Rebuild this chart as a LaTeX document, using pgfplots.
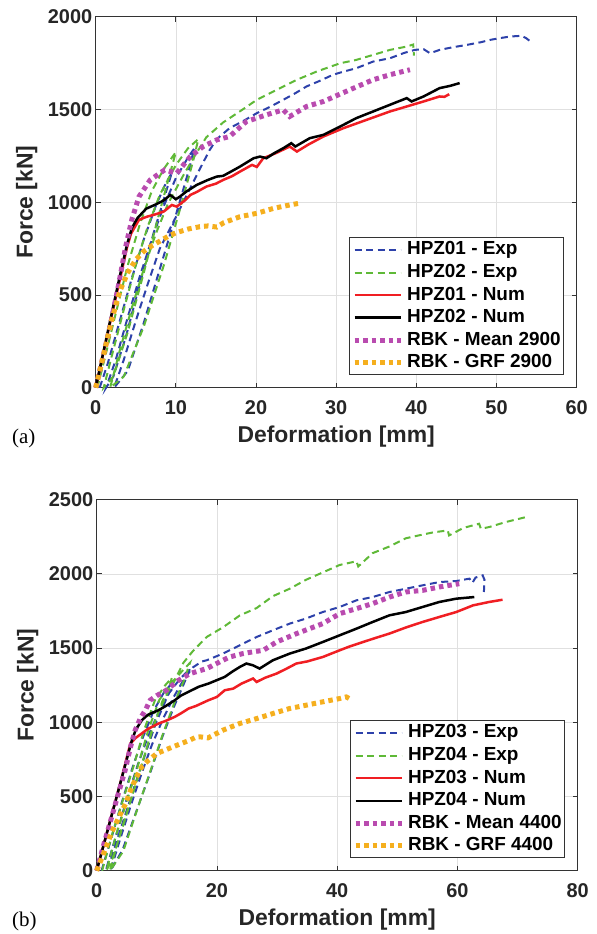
\documentclass[border=0pt]{standalone}
\usepackage{fontspec}
\setmainfont{Liberation Sans}
\newfontfamily\seriffont{Liberation Serif}
\usepackage{pgfplots}
\pgfplotsset{compat=1.18}

\definecolor{cblue}{RGB}{45,65,170}
\definecolor{cgreen}{RGB}{95,185,55}
\definecolor{cred}{RGB}{240,30,35}
\definecolor{cmag}{RGB}{185,75,175}
\definecolor{corange}{RGB}{245,175,30}

\pgfplotsset{
  panel/.style={
    scale only axis, width=481bp, height=371bp,
    clip=false,
    axis line style={black!80, line width=0.8bp},
    grid=major, major grid style={black!12, line width=0.6bp},
    tick align=inside, major tick length=5bp,
    tick style={black!80, line width=0.8bp},
    /pgf/number format/assume math mode=true,
    /pgf/number format/1000 sep={},
    tick label style={font=\fontsize{20}{22}\selectfont\bfseries, text=black!85},
    xticklabel style={yshift=-9bp},
    label style={font=\fontsize{23}{25}\selectfont\bfseries, text=black!85},
    ylabel style={at={(axis description cs:-0.1436,0.5)}, anchor=center},
    legend style={at={(0.974,0.033)}, anchor=south east,
      font=\fontsize{19}{21}\selectfont\bfseries, draw=black!80,
      line width=1bp, inner sep=3bp, row sep=4.6bp,
      nodes={inner sep=0bp, text height=14bp, text depth=4bp},
      /tikz/every odd column/.append style={column sep=4bp}},
    legend cell align=left,
    legend image code/.code={\draw[##1] (0bp,0bp) -- (46bp,0bp);},
  },
  exp/.style={line width=2bp, dash pattern=on 7bp off 4.5bp},
  num/.style={line width=2.5bp, solid},
  rbk/.style={line width=5bp, dash pattern=on 4.5bp off 4bp},
}

\begin{document}
\begin{tikzpicture}
\path[use as bounding box] (0,0) rectangle (597bp,934bp);

% ---------------- panel (a)
\begin{axis}[panel,
  at={(95.7bp,546.3bp)}, anchor=south west,
  xmin=0, xmax=60, ymin=0, ymax=2000,
  xtick={0,10,...,60}, ytick={0,500,...,2000},
  xlabel={Deformation [mm]}, ylabel={Force [kN]},
  xlabel style={at={(axis description cs:0.5,-0.132)}, anchor=center},
]
\addplot[cblue, exp] coordinates {
 (0.5,0) (1.5,130) (3,360) (4.5,590) (6,800) (7.5,980) (8.5,1080) (9.5,1160)
 (8.8,1060) (7.2,830) (5.5,560) (3.8,280) (2.2,60) (1.3,0)
 (2.5,150) (4,380) (5.5,600) (7,800) (8.5,980) (10,1130) (11.5,1240) (12.3,1290)
 (11.6,1170) (10,930) (8,640) (6,350) (4,90) (2.3,0)
 (3.5,150) (5,360) (6.5,560) (8,750) (10,920) (11.5,1050) (13,1180) (14.2,1280)
 (15.1,1340) (16.7,1399) (18.5,1440) (20.1,1480) (21.8,1515) (23.4,1552) (25,1590)
 (26.3,1624) (28,1655) (29.6,1687) (31,1705) (32.5,1722) (34.6,1758) (36.7,1776)
 (38.5,1805) (39.8,1821) (40.9,1825) (41.7,1803) (42.9,1821) (44.5,1835) (46.3,1848)
 (48,1862) (49.2,1875) (50.5,1885) (51.7,1893) (53.1,1897) (53.7,1884) (54.4,1861)
};
\addlegendentry{HPZ01 - Exp}
\addplot[cgreen, exp] coordinates {
 (0.2,0) (1.2,170) (2.5,400) (4,660) (5.5,880) (7,1060) (8.5,1180) (10,1270)
 (9.3,1160) (7.8,920) (6,620) (4,300) (2.2,60) (1,0)
 (2,170) (3.5,420) (5,660) (6.5,870) (8,1040) (10,1200) (11.5,1290) (12.8,1340)
 (12.2,1230) (10.5,960) (8.5,660) (6,330) (3.5,60) (1.8,0)
 (3,200) (4.5,430) (6,640) (7.5,830) (9,990) (11,1150) (12.5,1260) (13.8,1350)
 (15.9,1430) (18,1490) (20.1,1552) (22.6,1606) (25.1,1660) (27.6,1705) (30.5,1749)
 (32.5,1767) (34.6,1794) (36.7,1821) (38.8,1839) (39.6,1850) (39.7,1790)
};
\addlegendentry{HPZ02 - Exp}
\addplot[cred, num] coordinates {
 (0,0) (1,195) (2,390) (3,580) (3.9,755) (4.4,830) (5.4,905) (6.4,922) (7.1,930)
 (7.85,940) (8.5,950) (9.5,985) (10.1,976) (11.2,1012) (11.8,1039) (12.6,1055)
 (13.8,1084) (15,1100) (15.9,1120) (17,1140) (18,1165) (19.5,1201) (20.1,1190)
 (20.9,1237) (22.5,1265) (24.2,1300) (25.1,1273) (26.5,1310) (28.4,1354)
 (30.9,1399) (33.8,1444) (36.7,1489) (38.8,1516) (40.9,1543) (42.9,1570)
 (43.5,1568) (44.1,1582)
};
\addlegendentry{HPZ01 - Num}
\addplot[black, num] coordinates {
 (0,0) (1,200) (2,400) (3,600) (3.9,770) (4.5,860) (5.2,914) (6.3,965) (7.6,990)
 (8.5,1010) (9.3,1039) (10,1016) (10.5,1030) (11.3,1057) (12.6,1093) (14,1120)
 (15.1,1138) (15.9,1142) (17,1168) (18,1192) (19.7,1237) (20.5,1246) (21.3,1237)
 (22.3,1265) (23.4,1291) (24.4,1318) (24.9,1300) (26.7,1345) (28.4,1363)
 (30.5,1408) (32.5,1453) (34.6,1489) (36.7,1525) (38.8,1561) (39.4,1543)
 (40.9,1570) (42.9,1615) (44.2,1627) (45.4,1642)
};
\addlegendentry{HPZ02 - Num}
\addplot[cmag, rbk] coordinates {
 (0,0) (1.6,293) (2.7,520) (3.7,752) (4.5,905) (5.4,1030) (6.8,1120) (8.6,1174)
 (10.1,1156) (11.8,1246) (13.4,1300) (15.1,1336) (16.7,1354) (18.8,1435)
 (21.3,1471) (23.4,1498) (24.2,1462) (26.3,1516) (28.4,1543) (31.7,1606)
 (34.6,1660) (36.7,1687) (39.2,1714)
};
\addlegendentry{RBK - Mean 2900}
\addplot[corange, rbk] coordinates {
 (0,0) (1,180) (2,365) (3,520) (4,620) (5,690) (6,735) (7,765) (8,790) (9,815)
 (10,835) (11.5,855) (13,868) (14,872) (15.1,866) (16,890) (18,922) (20.1,940)
 (22.2,967) (24.2,985) (25.5,995)
};
\addlegendentry{RBK - GRF 2900}
\end{axis}
\node[font=\seriffont\fontsize{21}{23}\selectfont, anchor=west, inner sep=0pt] at (12bp,496bp) {(a)};

% ---------------- panel (b)
\begin{axis}[panel,
  at={(96.7bp,63.3bp)}, anchor=south west,
  xmin=0, xmax=80, ymin=0, ymax=2500,
  xtick={0,20,...,80}, ytick={0,500,...,2500},
  xlabel={Deformation [mm]}, ylabel={Force [kN]},
  xlabel style={at={(axis description cs:0.5,-0.133)}, anchor=center},
]
\addplot[cblue, exp] coordinates {
 (0.8,0) (2.3,200) (4.1,450) (6,700) (7.7,900) (9.5,1080) (11.3,1210) (12.5,1260)
 (11.5,1150) (9.8,990) (8.2,800) (6.3,570) (4.3,320) (2.4,80) (1.5,0)
 (3.1,220) (4.9,470) (6.8,710) (8.5,900) (10.3,1070) (12.1,1200) (13.8,1290) (15.5,1360)
 (14.5,1260) (12.8,1100) (10.9,900) (8.9,660) (6.6,400) (4.3,140) (2.3,0)
 (3.8,200) (5.6,430) (7.5,660) (9.2,850) (11,1020) (12.8,1170) (14.5,1290)
 (16,1370) (17.5,1410) (18.3,1418) (21,1463) (23.8,1519) (26.6,1575) (29.3,1620)
 (32.1,1665) (34.8,1699) (37.6,1743) (40.4,1777) (43.2,1822) (45.9,1844)
 (48.7,1878) (51.4,1900) (54.2,1923) (57,1945) (59.8,1952) (62,1968) (62.5,1940)
 (63,1975) (64.2,1990) (64.5,1960) (64.4,1878)
};
\addlegendentry{HPZ03 - Exp}
\addplot[cgreen, exp] coordinates {
 (0.9,0) (2.6,250) (4.4,480) (6.1,700) (7.9,950) (9.7,1150) (11.4,1250) (12.5,1300)
 (11.8,1200) (10.2,1060) (8.5,850) (6.6,600) (4.6,330) (2.6,80) (1.6,0)
 (3.3,250) (5.1,480) (6.8,700) (8.6,950) (10.4,1150) (12.1,1250) (14.1,1340) (15.5,1400)
 (14.6,1290) (12.9,1130) (11,920) (9,680) (6.8,420) (4.4,130) (2.2,0)
 (3.9,250) (5.7,480) (7.4,700) (9.2,950) (11,1150) (12.7,1260) (14.4,1400)
 (16,1480) (18.3,1575) (21,1640) (23.8,1720) (26.6,1770) (29.3,1850) (32.1,1900)
 (34.8,1960) (37.6,2010) (40.4,2060) (43.2,2085) (43.5,2050) (45.9,2140)
 (48.7,2185) (51.4,2240) (54.2,2265) (56,2280) (58.4,2293) (58.6,2259) (61,2310)
 (63.6,2338) (63.9,2304) (65.3,2316) (68,2349) (71.4,2383)
};
\addlegendentry{HPZ04 - Exp}
\addplot[cred, num] coordinates {
 (0,0) (2,300) (4,600) (5.6,857) (6.5,895) (7.5,925) (8.5,955) (10.3,992)
 (11.5,1010) (13,1037) (14,1060) (15.3,1093) (16.5,1110) (18.6,1149) (20,1171)
 (21.3,1216) (22.7,1227) (24.1,1261) (26,1295) (26.6,1272) (28,1300) (29.9,1328)
 (31.5,1360) (33.2,1396) (35,1410) (37.6,1440) (40.4,1485) (42,1510) (44.3,1541)
 (46.5,1570) (48.7,1598) (51.5,1640) (54.2,1676) (57,1710) (59.8,1743)
 (62.6,1788) (65.3,1811) (67.5,1826)
};
\addlegendentry{HPZ03 - Num}
\addplot[black, num] coordinates {
 (0,0) (2,300) (4,600) (5.86,880) (6.5,950) (7.5,1014) (8.5,1050) (10.3,1082)
 (11.5,1110) (13,1149) (14,1180) (15.8,1216) (17,1240) (18.6,1261) (21.3,1306)
 (22.5,1340) (23.8,1373) (24.9,1396) (26,1384) (27.1,1362) (29.3,1418)
 (32.1,1463) (34.8,1497) (37.6,1541) (40.4,1586) (43.2,1631) (45.9,1676)
 (48.7,1721) (51.4,1743) (54.2,1777) (57,1811) (59.8,1833) (62.8,1844)
};
\addlegendentry{HPZ04 - Num}
\addplot[cmag, rbk] coordinates {
 (0,0) (1.2,180) (2.5,363) (3.6,520) (4.75,680) (5.6,830) (6.4,947) (7.3,1030)
 (8.1,1082) (8.9,1149) (10,1180) (11.6,1216) (13.5,1280) (15.5,1328) (18.3,1362)
 (21,1418) (22.1,1440) (24.3,1463) (26,1475) (27.7,1485) (29.9,1541) (33.2,1597)
 (37.6,1665) (40.4,1732) (43.2,1766) (45.9,1800) (48.7,1844) (51.4,1878)
 (54.2,1889) (57,1912) (60.3,1934)
};
\addlegendentry{RBK - Mean 4400}
\addplot[corange, rbk] coordinates {
 (0,0) (1,100) (2.5,260) (3.7,360) (4.8,450) (5.8,560) (6.5,620) (7.5,700)
 (8.5,740) (10,790) (12.7,835) (15.5,880) (16.5,900) (17.2,902) (18.5,895)
 (21,947) (23.8,992) (26.6,1025) (29.3,1059) (32.1,1093) (34.8,1115) (37.6,1138)
 (40.4,1160) (41.5,1171) (42.3,1153)
};
\addlegendentry{RBK - GRF 4400}
\end{axis}
\node[font=\seriffont\fontsize{21}{23}\selectfont, anchor=west, inner sep=0pt] at (12bp,13bp) {(b)};
\end{tikzpicture}
\end{document}
